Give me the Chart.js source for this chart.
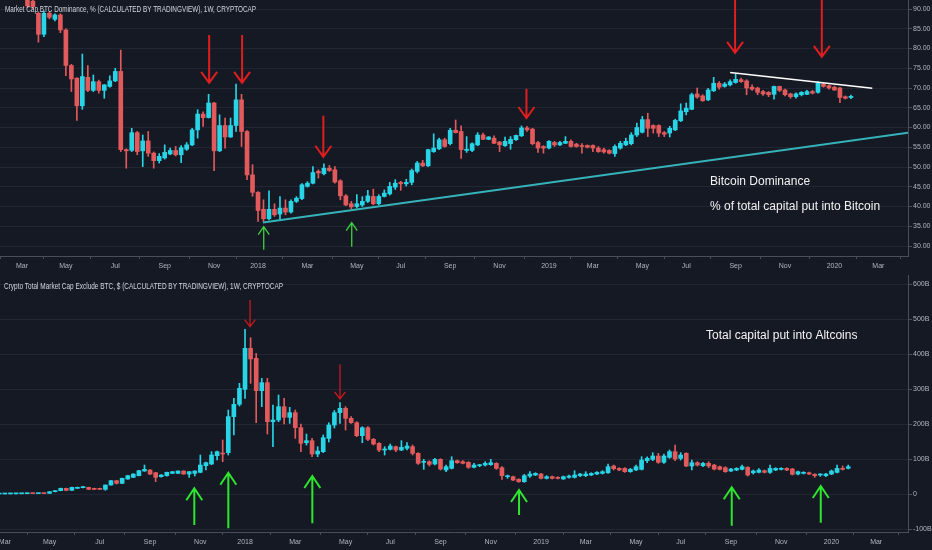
<!DOCTYPE html>
<html>
<head>
<meta charset="utf-8">
<script src="https://cdn.jsdelivr.net/npm/chart.js@4.4.1/dist/chart.umd.min.js"></script>
<style>
  html, body { margin: 0; padding: 0; background: #151924; overflow: hidden; }
  .panel { position: absolute; left: 0; width: 932px; }
  #top { top: 0; height: 272px; }
  #bottom { top: 272px; height: 278px; }
</style>
</head>
<body>
<div class="panel" id="top"><canvas id="domChart"></canvas></div>
<div class="panel" id="bottom"><canvas id="altChart"></canvas></div>
<script>
// x values are weeks counted from the weekly bar of 2018-01-01
const monthTicks = [-43, -35, -26, -17, -8, 0, 9, 18, 26, 35, 44, 53, 61, 70, 78, 87, 96, 105, 113]
const monthLabels = ['Mar', 'May', 'Jul', 'Sep', 'Nov', '2018', 'Mar', 'May', 'Jul', 'Sep', 'Nov', '2019', 'Mar', 'May', 'Jul', 'Sep', 'Nov', '2020', 'Mar']

// BTC dominance, %, weekly, first bar = week -42
const DOM_START = -42
const domO = [
  93.5, 92.0, 88.9, 83.6, 88.9, 87.4, 88.5, 84.7, 75.7, 72.5,
  65.5, 72.7, 69.4, 71.6, 69.4, 70.4, 71.8, 74.2, 54.4, 54.2,
  58.7, 54.1, 56.6, 53.5, 51.6, 52.3, 53.3, 54.2, 53.1, 54.5,
  55.6, 59.4, 63.4, 62.5, 66.2, 54.1, 60.5, 57.6, 60.5, 67.0,
  59.0, 48.0, 43.6, 39.3, 36.9, 39.3, 38.1, 39.6, 38.6, 41.3,
  42.0, 45.1, 45.9, 48.9, 48.3, 49.7, 49.3, 46.5, 42.7, 40.7,
  40.0, 40.4, 41.3, 42.55, 40.7, 42.55, 43.2, 44.9, 46.1, 45.75,
  46.1, 48.9, 51.0, 50.3, 53.9, 54.6, 56.9, 55.9, 59.3, 59.0,
  54.2, 54.2, 55.6, 58.1, 57.0, 57.3, 56.3, 55.4, 55.9, 56.9,
  57.9, 59.9, 59.6, 56.2, 55.2, 54.8, 56.2, 55.6, 56.0, 56.5,
  55.8, 55.45, 55.45, 55.45, 54.8, 54.4, 54.2, 53.4, 54.8, 55.6,
  55.9, 58.1, 58.8, 62.0, 60.5, 60.5, 58.7, 58.6, 59.4, 61.7,
  64.0, 64.6, 68.5, 68.0, 67.0, 69.3, 71.2, 70.4, 70.8, 71.4,
  72.1, 71.8, 70.2, 70.0, 69.1, 68.9, 68.4, 70.4, 69.5, 68.5,
  67.8, 68.3, 68.4, 69.1, 68.9, 71.0, 70.6, 70.2, 70.0, 67.8, 67.6
]
const domH = [
  94.0, 92.8, 89.3, 89.5, 89.3, 88.8, 88.8, 85.0, 76.0, 72.6,
  78.6, 75.7, 73.3, 72.0, 70.9, 73.1, 75.0, 79.6, 54.6, 59.8,
  59.0, 58.1, 59.0, 53.8, 53.4, 55.6, 54.8, 55.2, 55.4, 56.2,
  59.8, 64.5, 64.0, 68.4, 66.4, 63.2, 62.4, 62.4, 71.0, 68.4,
  59.2, 50.6, 43.8, 41.7, 44.0, 40.7, 42.5, 41.7, 41.7, 42.5,
  45.8, 46.3, 50.1, 49.3, 50.8, 50.4, 50.1, 46.8, 43.0, 41.3,
  43.0, 42.5, 44.1, 44.4, 43.0, 44.2, 46.1, 46.8, 46.4, 46.9,
  49.5, 51.4, 51.7, 54.5, 58.4, 57.3, 57.3, 59.8, 61.9, 60.4,
  57.7, 56.1, 58.7, 58.6, 57.7, 57.9, 56.5, 57.6, 57.7, 58.1,
  60.4, 60.3, 59.8, 56.5, 55.4, 56.7, 56.5, 56.5, 57.7, 56.9,
  56.0, 55.9, 55.6, 55.6, 55.2, 54.8, 54.4, 55.6, 56.5, 57.3,
  58.7, 61.1, 62.8, 63.6, 60.7, 60.7, 59.0, 60.3, 62.1, 66.0,
  66.2, 68.7, 70.0, 68.3, 69.9, 72.7, 71.6, 71.4, 72.1, 73.6,
  72.5, 72.1, 70.8, 70.2, 69.4, 69.1, 70.5, 70.5, 69.7, 68.7,
  68.8, 69.1, 69.4, 69.4, 71.6, 71.2, 70.8, 70.5, 70.2, 68.0, 68.2
]
const domL = [
  90.3, 90.1, 81.6, 83.0, 87.5, 87.0, 84.0, 73.1, 69.1, 61.8,
  64.6, 69.1, 69.1, 68.7, 67.4, 70.2, 71.6, 53.9, 49.7, 53.9,
  53.1, 50.1, 52.7, 49.7, 51.0, 52.0, 53.1, 52.8, 51.1, 54.2,
  55.4, 57.3, 60.3, 62.4, 49.1, 53.9, 54.8, 57.5, 59.0, 55.2,
  46.8, 42.6, 36.2, 36.2, 36.6, 37.5, 36.6, 37.9, 38.3, 41.0,
  41.7, 44.9, 45.7, 47.2, 48.0, 48.9, 45.9, 41.7, 40.2, 39.4,
  39.6, 40.0, 41.0, 40.4, 40.4, 42.4, 42.9, 44.3, 44.1, 45.2,
  45.5, 48.5, 50.1, 50.1, 53.7, 54.4, 55.0, 55.6, 58.6, 52.2,
  53.7, 53.9, 55.4, 56.9, 56.9, 55.9, 53.9, 55.2, 54.5, 56.7,
  57.7, 59.0, 55.6, 53.7, 53.5, 54.6, 55.2, 55.4, 55.9, 55.0,
  55.0, 53.5, 54.8, 53.9, 53.7, 53.5, 53.3, 52.7, 54.5, 55.4,
  55.6, 57.7, 58.6, 57.7, 58.6, 57.7, 57.7, 57.6, 59.2, 61.5,
  63.2, 64.5, 67.4, 66.6, 66.8, 69.1, 69.7, 70.2, 70.5, 71.2,
  71.4, 68.3, 69.4, 68.3, 68.1, 67.8, 67.2, 69.1, 68.0, 67.4,
  67.4, 68.0, 68.3, 68.5, 68.7, 70.2, 69.7, 69.4, 66.3, 67.2, 67.3
]
const domC = [
  90.8, 90.6, 83.6, 88.9, 87.9, 88.5, 84.7, 75.7, 72.3, 65.5,
  72.9, 69.4, 71.6, 69.4, 70.8, 71.8, 74.2, 54.4, 54.1, 58.7,
  53.9, 56.6, 53.5, 51.6, 52.7, 53.7, 54.2, 53.1, 54.9, 55.6,
  59.4, 63.4, 62.5, 66.2, 54.1, 60.5, 57.6, 60.5, 67.0, 59.0,
  48.0, 43.6, 39.0, 36.9, 39.3, 37.9, 39.6, 38.6, 41.3, 42.1,
  45.5, 45.9, 48.6, 48.5, 49.7, 49.1, 46.2, 42.7, 40.4, 39.9,
  40.7, 41.3, 42.7, 40.7, 42.55, 43.4, 45.1, 45.9, 45.75, 46.1,
  49.1, 51.0, 50.3, 54.4, 54.8, 56.9, 55.2, 59.3, 58.7, 54.4,
  54.5, 55.9, 58.1, 57.0, 57.6, 56.0, 55.6, 56.5, 57.0, 58.0,
  59.9, 59.4, 55.9, 54.8, 54.8, 56.5, 55.6, 56.2, 56.5, 55.2,
  55.2, 55.2, 55.0, 54.8, 53.9, 53.8, 53.5, 55.2, 56.0, 56.5,
  58.1, 60.0, 62.0, 59.8, 59.8, 58.6, 58.3, 59.8, 61.8, 64.2,
  64.9, 68.3, 67.7, 66.8, 69.5, 71.2, 70.2, 71.0, 71.6, 72.2,
  71.6, 70.0, 69.7, 68.9, 68.5, 68.3, 70.4, 69.4, 68.3, 67.8,
  68.5, 68.9, 69.1, 68.7, 71.2, 70.4, 70.0, 69.5, 67.6, 67.4, 67.9
]
const domTicks = [30, 35, 40, 45, 50, 55, 60, 65, 70, 75, 80, 85, 90]

// total market cap excluding BTC, billions $, weekly, first bar = week -44
const ALT_START = -44
const altO = [
  1.5, 1.6, 1.8, 2.0, 2.1, 2.4, 2.6, 2.5, 2.8, 3.3,
  8.1, 10.9, 17.6, 12.0, 17.6, 19.5, 20.4, 17.6, 17.6, 14.7,
  27.1, 39.5, 31.9, 44.3, 49.0, 53.8, 67.1, 70.0, 62.3, 50.9,
  53.8, 60.4, 60.4, 67.1, 58.5, 60.4, 63.3, 82.3, 87.1, 110.9,
  117.6, 119.5, 222.4, 257.6, 300.4, 417.6, 389.0, 296.6, 319.5, 208.0,
  212.8, 250.9, 220.4, 233.8, 191.0, 148.1, 153.8, 115.7, 122.4, 160.4,
  198.5, 233.8, 246.2, 217.6, 205.2, 168.1, 190.9, 157.6, 146.2, 127.1,
  129.0, 136.6, 127.1, 131.9, 136.6, 117.6, 91.9, 93.8, 87.1, 100.4,
  70.0, 74.7, 96.6, 93.8, 91.9, 77.6, 82.3, 84.2, 85.2, 89.0,
  76.6, 50.9, 50.9, 43.3, 36.6, 52.8, 55.7, 58.5, 46.2, 50.9,
  49.0, 44.3, 49.0, 49.0, 53.8, 53.8, 55.7, 58.5, 60.4, 62.3,
  81.4, 74.7, 74.7, 65.2, 70.0, 71.9, 96.6, 100.4, 110.0, 91.9,
  106.2, 122.4, 103.3, 117.6, 81.4, 90.9, 82.3, 89.0, 84.2, 79.5,
  76.6, 67.1, 70.0, 71.9, 77.6, 62.3, 63.3, 68.1, 63.3, 70.0,
  71.9, 74.7, 72.8, 58.5, 60.4, 62.3, 57.6, 55.7, 53.8, 58.5,
  63.3, 74.7, 74.7
]
const altH = [
  1.8, 2.0, 2.2, 2.3, 2.6, 2.8, 2.8, 3.0, 3.3, 8.5,
  11.5, 18.5, 18.2, 20.9, 21.5, 23.5, 21.0, 18.2, 18.0, 27.5,
  40.5, 40.5, 47.0, 55.0, 59.5, 69.0, 84.2, 71.0, 63.0, 57.0,
  64.0, 66.0, 68.0, 68.0, 66.0, 68.0, 112.8, 93.0, 122.4, 124.0,
  155.7, 241.4, 275.0, 317.6, 471.9, 448.0, 403.0, 331.9, 331.9, 255.7,
  284.3, 274.7, 249.0, 241.4, 201.4, 172.8, 160.4, 136.6, 170.0, 205.0,
  240.0, 262.3, 251.0, 222.4, 208.0, 193.8, 193.8, 160.4, 148.1, 136.6,
  144.2, 138.5, 153.8, 148.1, 141.4, 119.5, 100.4, 96.6, 103.3, 102.3,
  84.2, 108.0, 98.5, 96.6, 93.8, 89.0, 86.1, 93.8, 100.4, 91.0,
  79.5, 55.7, 52.8, 45.2, 57.6, 65.2, 62.3, 60.4, 53.8, 52.8,
  50.9, 52.8, 55.7, 68.1, 60.4, 65.2, 62.3, 65.2, 68.1, 87.1,
  84.2, 76.6, 76.6, 74.7, 84.2, 108.0, 108.0, 119.5, 117.6, 115.7,
  127.1, 141.4, 119.5, 119.5, 98.5, 93.8, 91.9, 93.8, 86.1, 81.4,
  79.5, 74.7, 76.6, 84.2, 79.5, 70.0, 73.8, 70.0, 84.2, 76.6,
  76.6, 76.6, 74.7, 67.1, 65.2, 64.2, 59.5, 59.5, 60.4, 70.0,
  84.2, 81.4, 84.2
]
const altL = [
  1.3, 1.4, 1.6, 1.8, 2.0, 2.2, 2.3, 2.4, 2.4, 3.0,
  7.5, 10.5, 10.5, 11.5, 17.0, 19.0, 14.0, 14.0, 14.2, 12.0,
  26.5, 30.0, 31.0, 43.5, 48.0, 53.0, 66.0, 57.0, 36.6, 49.5,
  52.5, 59.5, 59.5, 57.5, 49.0, 52.8, 62.0, 70.0, 85.0, 98.5,
  93.8, 112.8, 170.0, 252.8, 274.7, 317.6, 205.2, 250.9, 172.8, 136.6,
  208.0, 201.4, 203.3, 160.4, 122.4, 141.4, 108.0, 108.0, 119.5, 150.0,
  190.0, 203.3, 184.2, 203.3, 165.2, 148.0, 153.8, 141.4, 122.4, 112.8,
  127.1, 122.4, 125.2, 127.1, 112.8, 86.1, 71.9, 81.4, 84.2, 70.0,
  65.2, 72.8, 89.0, 87.1, 74.7, 75.7, 79.5, 81.4, 83.3, 71.9,
  43.3, 46.2, 39.5, 34.7, 34.7, 49.0, 53.8, 44.3, 44.3, 44.3,
  44.3, 43.3, 47.0, 47.0, 51.0, 51.0, 53.8, 56.6, 58.5, 60.4,
  70.0, 68.1, 63.3, 63.3, 68.1, 70.0, 91.0, 96.6, 89.0, 89.0,
  103.3, 96.6, 98.5, 79.5, 70.0, 81.4, 79.5, 76.6, 70.0, 70.0,
  63.3, 65.2, 68.1, 70.0, 52.8, 58.5, 61.4, 61.4, 60.4, 68.1,
  70.0, 68.1, 55.7, 55.7, 58.5, 56.6, 49.0, 51.9, 51.0, 56.6,
  61.4, 70.0, 73.0
]
const altC = [
  1.6, 1.8, 2.0, 2.1, 2.4, 2.6, 2.5, 2.8, 2.6, 8.1,
  10.9, 17.6, 12.0, 20.4, 20.4, 22.3, 14.7, 14.7, 14.7, 27.1,
  39.5, 31.9, 46.2, 53.8, 58.5, 68.1, 71.9, 58.5, 49.0, 55.7,
  63.3, 65.2, 67.1, 58.5, 65.2, 67.1, 84.2, 90.9, 112.8, 122.4,
  115.7, 222.4, 257.6, 303.3, 417.6, 387.1, 296.6, 319.5, 208.0, 212.8,
  250.9, 220.4, 233.8, 191.0, 146.2, 153.8, 115.7, 124.2, 162.4, 198.5,
  233.8, 246.2, 217.6, 205.2, 168.1, 190.9, 157.6, 144.2, 127.1, 129.0,
  138.5, 127.1, 134.7, 138.5, 117.6, 89.0, 93.8, 86.1, 100.4, 72.8,
  79.5, 96.6, 90.9, 89.0, 77.6, 84.2, 84.2, 89.0, 90.9, 74.7,
  53.8, 52.8, 41.4, 36.6, 53.8, 58.5, 60.4, 46.2, 50.9, 46.2,
  46.2, 50.9, 52.8, 55.7, 58.5, 58.5, 60.4, 63.3, 65.2, 79.5,
  73.8, 70.0, 65.2, 71.9, 79.5, 98.5, 103.3, 110.0, 91.9, 110.0,
  122.4, 101.4, 112.8, 81.4, 90.9, 84.2, 89.0, 81.4, 72.8, 71.9,
  65.2, 72.8, 74.7, 79.5, 55.7, 67.1, 70.0, 63.3, 74.7, 74.7,
  74.7, 70.0, 57.6, 65.2, 63.3, 58.5, 53.8, 57.6, 58.5, 67.1,
  74.7, 71.9, 79.5
]
const altTicks = [-100, 0, 100, 200, 300, 400, 500, 600]

// drawn annotations, in [week, value]
const domSupport = [[0.9, 35.97], [121, 59.2]]
const domResistance = [[86.0, 73.9], [111.9, 69.95]]
const domDownArrows = [[-8.9, 83.4, 71.3], [-2.9, 83.4, 71.3], [11.9, 62.95, 52.6], [48.9, 69.8, 62.4], [86.9, 95, 78.9], [102.7, 95, 77.9]]
const domUpArrows = [[1.04, 29.07, 34.9], [17.07, 29.8, 35.9]]
const altDownArrows = [[0.9, 555.7, 479.4], [17.0, 372, 272.9]]
const altUpArrows = [[-9.08, -87.1, 17.7], [-2.99, -96.6, 62.3], [12.05, -82.3, 52.9], [49.06, -58.6, 12.9], [87.14, -89.1, 20.6], [103.08, -80.6, 24.3]]

const UP = '#27d5e6'
const DOWN = '#e25a5b'
const GRID = '#222634'
const AXIS = '#4a4e59'
const TICK = '#b2b5be'
const SANS = "'Liberation Sans', Arial, sans-serif"

Chart.defaults.font.family = SANS

function candles(start, o, h, l, c) {
  var bodies = [], wicks = [], colors = []
  for (var i = 0; i < c.length; i++) {
    bodies.push({x: start + i, y: [o[i], c[i]]})
    wicks.push({x: start + i, y: [l[i], h[i]]})
    colors.push(c[i] >= o[i] ? UP : DOWN)
  }
  return {bodies: bodies, wicks: wicks, colors: colors}
}

function overlay(cfg) {
  return {
    id: 'overlay',
    afterDatasetsDraw(chart) {
      var ctx = chart.ctx, a = chart.chartArea
      var xs = chart.scales.x, ys = chart.scales.y
      ctx.save()
      ctx.beginPath()
      ctx.rect(a.left, a.top, a.right - a.left, a.bottom - a.top)
      ctx.clip()
      cfg.lines.forEach(function (ln) {
        ctx.strokeStyle = ln.color
        ctx.lineWidth = ln.width
        ctx.beginPath()
        ctx.moveTo(xs.getPixelForValue(ln.pts[0][0]), ys.getPixelForValue(ln.pts[0][1]))
        ctx.lineTo(xs.getPixelForValue(ln.pts[1][0]), ys.getPixelForValue(ln.pts[1][1]))
        ctx.stroke()
      })
      cfg.arrows.forEach(function (set) {
        ctx.strokeStyle = set.color
        ctx.lineWidth = set.width
        set.list.forEach(function (ar) {
          var x = xs.getPixelForValue(ar[0])
          var yTail = ys.getPixelForValue(ar[1])
          var yTip = ys.getPixelForValue(ar[2])
          var dir = yTip > yTail ? 1 : -1
          ctx.beginPath()
          ctx.moveTo(x, yTail)
          ctx.lineTo(x, yTip)
          ctx.moveTo(x - set.head[0], yTip - dir * set.head[1])
          ctx.lineTo(x, yTip)
          ctx.lineTo(x + set.head[0], yTip - dir * set.head[1])
          ctx.stroke()
        })
      })
      ctx.restore()
      ctx.save()
      ctx.textBaseline = 'middle'
      cfg.texts.forEach(function (t) {
        ctx.font = t.font
        ctx.fillStyle = t.color
        if (t.fit) ctx.fillText(t.text, t.x, t.y, t.fit)
        else ctx.fillText(t.text, t.x, t.y)
      })
      ctx.restore()
    }
  }
}

function makeChart(id, series, scale, extra) {
  var s = candles(series.start, series.o, series.h, series.l, series.c)
  return new Chart(document.getElementById(id), {
    type: 'bar',
    data: {
      datasets: [
        {data: s.wicks, backgroundColor: s.colors, barThickness: 1, grouped: false, order: 2},
        {data: s.bodies, backgroundColor: s.colors, barThickness: 4, minBarLength: 1, grouped: false, order: 1}
      ]
    },
    options: {
      responsive: true,
      maintainAspectRatio: false,
      animation: false,
      events: [],
      layout: {padding: {top: scale.padTop, left: 0, right: 0, bottom: 0}},
      plugins: {legend: {display: false}, tooltip: {enabled: false}},
      scales: {
        x: {
          type: 'linear',
          min: scale.xMin,
          max: scale.xMax,
          offset: false,
          afterBuildTicks: function (ax) { ax.ticks = monthTicks.map(function (v) { return {value: v} }) },
          afterFit: function (ax) { ax.height = scale.xHeight; ax.paddingLeft = 0; ax.paddingRight = 0 },
          ticks: {
            color: TICK, font: {size: 7}, autoSkip: false, maxRotation: 0, padding: 3,
            callback: function (v, i) { return monthLabels[i] }
          },
          grid: {drawOnChartArea: false, tickColor: AXIS, tickLength: 3},
          border: {color: AXIS}
        },
        y: {
          position: 'right',
          min: scale.yMin,
          max: scale.yMax,
          afterBuildTicks: function (ax) { ax.ticks = scale.ticks.map(function (v) { return {value: v} }) },
          afterFit: function (ax) { ax.width = 24; ax.paddingTop = 0; ax.paddingBottom = 0 },
          ticks: {color: TICK, font: {size: 7}, padding: 1, callback: scale.fmt},
          grid: {color: GRID, tickColor: AXIS, tickLength: 4},
          border: {color: AXIS}
        }
      }
    },
    plugins: [overlay(extra)]
  })
}

makeChart('domChart',
  {start: DOM_START, o: domO, h: domH, l: domL, c: domC},
  {xMin: -47, xMax: 118.4, yMin: 27.47, yMax: 92.28, ticks: domTicks, xHeight: 16, padTop: 0,
   fmt: function (v) { return v.toFixed(2) }},
  {
    lines: [
      {pts: domSupport, color: '#35b3b8', width: 2},
      {pts: domResistance, color: '#ffffff', width: 1.5}
    ],
    arrows: [
      {list: domDownArrows, color: '#e01e1e', width: 2, head: [8, 11]},
      {list: domUpArrows, color: '#3fd13f', width: 1.3, head: [5.5, 8]}
    ],
    texts: [
      {text: 'Market Cap BTC Dominance, % (CALCULATED BY TRADINGVIEW), 1W, CRYPTOCAP', x: 5, y: 10, fit: 251, font: '9px ' + SANS, color: '#d1d4dc'},
      {text: 'Bitcoin Dominance', x: 710, y: 182, font: '12px ' + SANS, color: '#f2f2f2'},
      {text: '% of total capital put into Bitcoin', x: 710, y: 207, font: '12px ' + SANS, color: '#f2f2f2'}
    ]
  })

makeChart('altChart',
  {start: ALT_START, o: altO, h: altH, l: altL, c: altC},
  {xMin: -43.87, xMax: 118.7, yMin: -107.1, yMax: 627.1, ticks: altTicks, xHeight: 18, padTop: 3,
   fmt: function (v) { return v === 0 ? '0' : v + 'B' }},
  {
    lines: [],
    arrows: [
      {list: altDownArrows, color: '#c8191c', width: 1.3, head: [5.3, 7]},
      {list: altUpArrows, color: '#2ee62e', width: 2, head: [8, 12]}
    ],
    texts: [
      {text: 'Crypto Total Market Cap Exclude BTC, $ (CALCULATED BY TRADINGVIEW), 1W, CRYPTOCAP', x: 4, y: 15, fit: 279, font: '9px ' + SANS, color: '#d1d4dc'},
      {text: 'Total capital put into Altcoins', x: 706, y: 64, font: '12px ' + SANS, color: '#f2f2f2'}
    ]
  })
</script>
</body>
</html>
